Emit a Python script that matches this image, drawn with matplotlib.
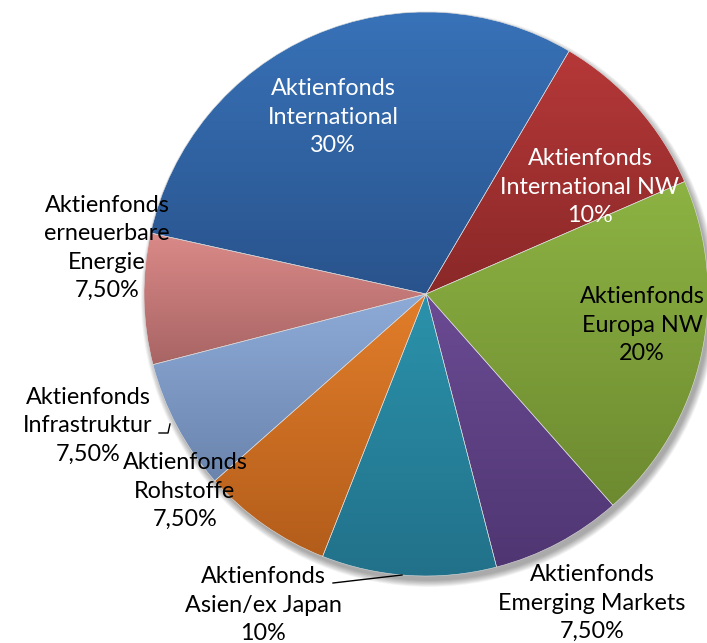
import numpy as np
import matplotlib.pyplot as plt
from matplotlib.colors import LinearSegmentedColormap
from matplotlib.patches import Circle

plt.rcParams['font.family'] = ['Lato', 'DejaVu Sans']

# Daten (im Uhrzeigersinn, beginnend bei "International NW")
namen = ['Aktienfonds\nInternational NW', 'Aktienfonds\nEuropa NW',
         'Aktienfonds\nEmerging Markets', 'Aktienfonds\nAsien/ex Japan',
         'Aktienfonds\nRohstoffe', 'Aktienfonds\nInfrastruktur',
         'Aktienfonds\nerneuerbare\nEnergie', 'Aktienfonds\nInternational']
anteile = [10, 20, 7.5, 10, 7.5, 7.5, 7.5, 30]

# Farbverlauf je Segment: oben hell, unten dunkel
farben_oben = ['#b63838', '#8db343', '#6b4b94', '#2b92ab', '#e27e2a',
               '#8eabd8', '#da8a88', '#3872b8']
farben_unten = ['#8a2828', '#6d8a30', '#4f3672', '#22718a', '#b35d1b',
                '#6a84ad', '#a86464', '#29538c']

# Position der Beschriftungen in Pixeln (x, y von oben)
label_pos = [(590, 187), (642, 325), (592, 603), (263, 605),
             (185, 491), (88, 426), (107, 248), (333, 117)]
label_farbe = ['white', 'black', 'black', 'black', 'black', 'black', 'black', 'white']


def prozent(v):
    if float(v).is_integer():
        return f'{int(v)}%'
    return f'{v:.2f}'.replace('.', ',') + '%'


W, H = 707, 643
fig = plt.figure(figsize=(W / 100, H / 100), dpi=100)
ax = fig.add_axes([0, 0, 1, 1])

cx, cy, r = 426, H - 294, 282

# weicher Schatten
for i in range(12):
    ax.add_patch(Circle((cx + 3, cy - 5), r + 6 - i * 0.6, color='black',
                        alpha=0.03, lw=0, zorder=0))

wedges, _ = ax.pie(anteile, center=(cx, cy), radius=r, startangle=59.5,
                   counterclock=False, frame=True,
                   wedgeprops=dict(linewidth=0.4, edgecolor='#dddddd'))

for w, c1, c2 in zip(wedges, farben_oben, farben_unten):
    w.set_facecolor('none')
    bb = w.get_path().get_extents(w.get_transform() + ax.transData.inverted())
    cmap = LinearSegmentedColormap.from_list('g', [c2, c1])
    grad = np.linspace(0, 1, 256).reshape(-1, 1)
    im = ax.imshow(grad, cmap=cmap, origin='lower', aspect='auto',
                   extent=(bb.x0, bb.x1, bb.y0, bb.y1), zorder=1)
    im.set_clip_path(w)
    w.set_zorder(2)

for name, v, (x, y), c in zip(namen, anteile, label_pos, label_farbe):
    ax.text(x, H - y, f'{name}\n{prozent(v)}', ha='center', va='center',
            color=c, fontsize=16.8, linespacing=1.42, zorder=5)

# Führungslinien
ax.plot([333, 402], [H - 583, H - 575], color='black', lw=1, zorder=5)
ax.plot([159, 168, 170], [H - 433, H - 433, H - 424], color='black', lw=1, zorder=5)

ax.set_xlim(0, W)
ax.set_ylim(0, H)
ax.set_aspect('equal')
ax.axis('off')

fig.savefig('out.png', dpi=100)
